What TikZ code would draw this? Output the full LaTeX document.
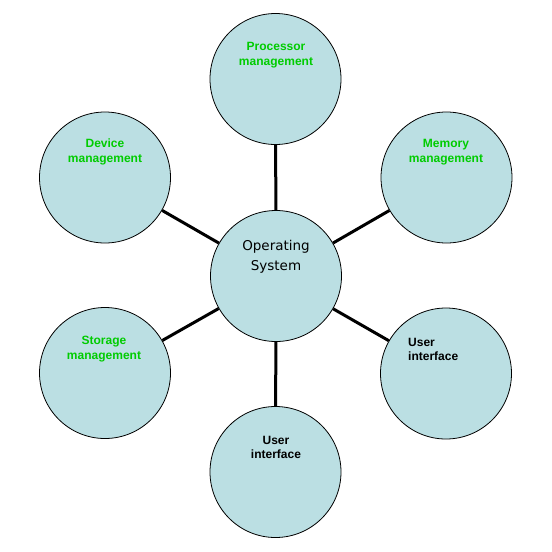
\documentclass[tikz,border=0pt]{standalone}
\usepackage{fontspec}
\setmainfont{Liberation Sans}
\newfontfamily\osfont{DejaVu Sans}
\definecolor{cfill}{RGB}{187,223,227}
\definecolor{lgreen}{RGB}{0,204,0}
\begin{document}
\begin{tikzpicture}[x=1pt,y=-1pt,
  bubble/.style={circle, draw=black, line width=0.8pt, fill=cfill, minimum size=131pt, inner sep=0pt},
  link/.style={line width=3pt, draw=black},
  glabel/.style={text=lgreen, font=\bfseries\fontsize{12}{15}\selectfont, align=center, inner sep=0pt},
  blabel/.style={text=black, font=\bfseries\fontsize{12}{14}\selectfont, inner sep=0pt},
  oslabel/.style={text=black, font=\osfont\fontsize{13.5}{20}\selectfont, align=center, inner sep=0pt}]
\useasboundingbox (0,0) rectangle (552,552);
\node[bubble] (os) at (276,276) {};
\node[bubble] (proc) at (275.5,79) {};
\node[bubble] (dev) at (105,177.5) {};
\node[bubble] (mem) at (446.5,177.5) {};
\node[bubble] (stor) at (105,373) {};
\node[bubble] (uir) at (446,373.5) {};
\node[bubble] (uib) at (275.5,472) {};
\draw[link] (os) -- (proc);
\draw[link] (os) -- (dev);
\draw[link] (os) -- (mem);
\draw[link] (os) -- (stor);
\draw[link] (os) -- (uir);
\draw[link] (os) -- (uib);
\node[oslabel] (tos) at (276,256.5) {Operating\\System};
\node[glabel] (tproc) at (276,55) {Processor\\management};
\node[glabel] (tdev) at (105,152) {Device\\management};
\node[glabel] (tmem) at (446,152) {Memory\\management};
\node[glabel] (tstor) at (104,349.5) {Storage\\management};
\node[blabel, align=left, anchor=west] (tuir) at (408,349.5) {User\\interface};
\node[blabel, align=center] (tuib) at (276,447) {User\\interface};
\end{tikzpicture}
\end{document}
